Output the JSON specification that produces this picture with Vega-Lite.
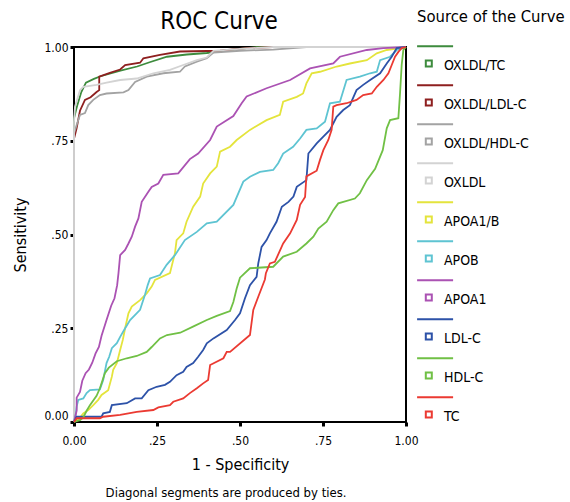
{
"$schema": "https://vega.github.io/schema/vega-lite/v6.json",
"width": 332, "height": 375,
"autosize": "none",
"padding": {"left": 74, "top": 47, "right": 164, "bottom": 80},
"config": {
  "font": "DejaVu Sans Condensed",
  "view": {"stroke": "black", "strokeWidth": 2},
  "axis": {"domain": false, "grid": false, "tickColor": "black", "tickSize": 4, "tickWidth": 3, "labelColor": "black", "labelFontSize": 12, "titleColor": "black", "titleFontWeight": "normal", "titleFontSize": 16}
},
"title": {"text": "ROC Curve", "fontSize": 24, "fontWeight": "normal", "anchor": "middle", "frame": "group", "dx": -21, "offset": -25, "color": "black"},
"datasets": {
"roc": [
{"s":"OXLDL/TC","i":0,"x":0,"y":0},{"s":"OXLDL/TC","i":1,"x":0,"y":0.81},{"s":"OXLDL/TC","i":2,"x":0.01,"y":0.845},{"s":"OXLDL/TC","i":3,"x":0.022,"y":0.88},{"s":"OXLDL/TC","i":4,"x":0.036,"y":0.905},{"s":"OXLDL/TC","i":5,"x":0.06,"y":0.915},{"s":"OXLDL/TC","i":6,"x":0.08,"y":0.922},{"s":"OXLDL/TC","i":7,"x":0.14,"y":0.937},{"s":"OXLDL/TC","i":8,"x":0.19,"y":0.948},{"s":"OXLDL/TC","i":9,"x":0.23,"y":0.96},{"s":"OXLDL/TC","i":10,"x":0.28,"y":0.974},{"s":"OXLDL/TC","i":11,"x":0.34,"y":0.98},{"s":"OXLDL/TC","i":12,"x":0.4,"y":0.984},{"s":"OXLDL/TC","i":13,"x":0.45,"y":0.99},{"s":"OXLDL/TC","i":14,"x":0.5,"y":0.995},{"s":"OXLDL/TC","i":15,"x":0.55,"y":1},{"s":"OXLDL/TC","i":16,"x":1,"y":1},
{"s":"OXLDL/LDL-C","i":0,"x":0,"y":0},{"s":"OXLDL/LDL-C","i":1,"x":0,"y":0.755},{"s":"OXLDL/LDL-C","i":2,"x":0.008,"y":0.784},{"s":"OXLDL/LDL-C","i":3,"x":0.018,"y":0.83},{"s":"OXLDL/LDL-C","i":4,"x":0.033,"y":0.859},{"s":"OXLDL/LDL-C","i":5,"x":0.05,"y":0.866},{"s":"OXLDL/LDL-C","i":6,"x":0.068,"y":0.88},{"s":"OXLDL/LDL-C","i":7,"x":0.076,"y":0.885},{"s":"OXLDL/LDL-C","i":8,"x":0.076,"y":0.921},{"s":"OXLDL/LDL-C","i":9,"x":0.108,"y":0.931},{"s":"OXLDL/LDL-C","i":10,"x":0.139,"y":0.94},{"s":"OXLDL/LDL-C","i":11,"x":0.154,"y":0.952},{"s":"OXLDL/LDL-C","i":12,"x":0.199,"y":0.958},{"s":"OXLDL/LDL-C","i":13,"x":0.209,"y":0.97},{"s":"OXLDL/LDL-C","i":14,"x":0.259,"y":0.979},{"s":"OXLDL/LDL-C","i":15,"x":0.319,"y":0.988},{"s":"OXLDL/LDL-C","i":16,"x":0.44,"y":0.99},{"s":"OXLDL/LDL-C","i":17,"x":0.52,"y":0.997},{"s":"OXLDL/LDL-C","i":18,"x":0.6,"y":1},{"s":"OXLDL/LDL-C","i":19,"x":1,"y":1},
{"s":"OXLDL/HDL-C","i":0,"x":0,"y":0},{"s":"OXLDL/HDL-C","i":1,"x":0,"y":0.77},{"s":"OXLDL/HDL-C","i":2,"x":0.008,"y":0.792},{"s":"OXLDL/HDL-C","i":3,"x":0.018,"y":0.819},{"s":"OXLDL/HDL-C","i":4,"x":0.033,"y":0.824},{"s":"OXLDL/HDL-C","i":5,"x":0.043,"y":0.845},{"s":"OXLDL/HDL-C","i":6,"x":0.058,"y":0.859},{"s":"OXLDL/HDL-C","i":7,"x":0.078,"y":0.872},{"s":"OXLDL/HDL-C","i":8,"x":0.098,"y":0.876},{"s":"OXLDL/HDL-C","i":9,"x":0.149,"y":0.879},{"s":"OXLDL/HDL-C","i":10,"x":0.164,"y":0.885},{"s":"OXLDL/HDL-C","i":11,"x":0.184,"y":0.907},{"s":"OXLDL/HDL-C","i":12,"x":0.219,"y":0.921},{"s":"OXLDL/HDL-C","i":13,"x":0.269,"y":0.93},{"s":"OXLDL/HDL-C","i":14,"x":0.319,"y":0.934},{"s":"OXLDL/HDL-C","i":15,"x":0.334,"y":0.948},{"s":"OXLDL/HDL-C","i":16,"x":0.37,"y":0.961},{"s":"OXLDL/HDL-C","i":17,"x":0.4,"y":0.97},{"s":"OXLDL/HDL-C","i":18,"x":0.42,"y":0.985},{"s":"OXLDL/HDL-C","i":19,"x":0.5,"y":0.99},{"s":"OXLDL/HDL-C","i":20,"x":0.6,"y":0.993},{"s":"OXLDL/HDL-C","i":21,"x":0.7,"y":1},{"s":"OXLDL/HDL-C","i":22,"x":1,"y":1},
{"s":"OXLDL","i":0,"x":0,"y":0},{"s":"OXLDL","i":1,"x":0,"y":0.8},{"s":"OXLDL","i":2,"x":0.003,"y":0.841},{"s":"OXLDL","i":3,"x":0.018,"y":0.885},{"s":"OXLDL","i":4,"x":0.028,"y":0.894},{"s":"OXLDL","i":5,"x":0.068,"y":0.899},{"s":"OXLDL","i":6,"x":0.098,"y":0.905},{"s":"OXLDL","i":7,"x":0.139,"y":0.912},{"s":"OXLDL","i":8,"x":0.189,"y":0.916},{"s":"OXLDL","i":9,"x":0.239,"y":0.93},{"s":"OXLDL","i":10,"x":0.289,"y":0.939},{"s":"OXLDL","i":11,"x":0.329,"y":0.952},{"s":"OXLDL","i":12,"x":0.37,"y":0.965},{"s":"OXLDL","i":13,"x":0.4,"y":0.972},{"s":"OXLDL","i":14,"x":0.42,"y":0.99},{"s":"OXLDL","i":15,"x":0.5,"y":0.995},{"s":"OXLDL","i":16,"x":0.6,"y":1},{"s":"OXLDL","i":17,"x":1,"y":1},
{"s":"APOA1/B","i":0,"x":0,"y":0},{"s":"APOA1/B","i":1,"x":0.018,"y":0.011},{"s":"APOA1/B","i":2,"x":0.028,"y":0.023},{"s":"APOA1/B","i":3,"x":0.043,"y":0.032},{"s":"APOA1/B","i":4,"x":0.058,"y":0.045},{"s":"APOA1/B","i":5,"x":0.073,"y":0.059},{"s":"APOA1/B","i":6,"x":0.083,"y":0.072},{"s":"APOA1/B","i":7,"x":0.103,"y":0.085},{"s":"APOA1/B","i":8,"x":0.114,"y":0.121},{"s":"APOA1/B","i":9,"x":0.118,"y":0.139},{"s":"APOA1/B","i":10,"x":0.129,"y":0.157},{"s":"APOA1/B","i":11,"x":0.139,"y":0.192},{"s":"APOA1/B","i":12,"x":0.147,"y":0.219},{"s":"APOA1/B","i":13,"x":0.154,"y":0.25},{"s":"APOA1/B","i":14,"x":0.164,"y":0.29},{"s":"APOA1/B","i":15,"x":0.174,"y":0.308},{"s":"APOA1/B","i":16,"x":0.199,"y":0.325},{"s":"APOA1/B","i":17,"x":0.219,"y":0.343},{"s":"APOA1/B","i":18,"x":0.234,"y":0.361},{"s":"APOA1/B","i":19,"x":0.244,"y":0.379},{"s":"APOA1/B","i":20,"x":0.289,"y":0.397},{"s":"APOA1/B","i":21,"x":0.304,"y":0.45},{"s":"APOA1/B","i":22,"x":0.309,"y":0.485},{"s":"APOA1/B","i":23,"x":0.329,"y":0.503},{"s":"APOA1/B","i":24,"x":0.339,"y":0.534},{"s":"APOA1/B","i":25,"x":0.359,"y":0.574},{"s":"APOA1/B","i":26,"x":0.38,"y":0.601},{"s":"APOA1/B","i":27,"x":0.389,"y":0.636},{"s":"APOA1/B","i":28,"x":0.41,"y":0.663},{"s":"APOA1/B","i":29,"x":0.43,"y":0.681},{"s":"APOA1/B","i":30,"x":0.44,"y":0.721},{"s":"APOA1/B","i":31,"x":0.47,"y":0.734},{"s":"APOA1/B","i":32,"x":0.49,"y":0.752},{"s":"APOA1/B","i":33,"x":0.53,"y":0.779},{"s":"APOA1/B","i":34,"x":0.58,"y":0.805},{"s":"APOA1/B","i":35,"x":0.62,"y":0.819},{"s":"APOA1/B","i":36,"x":0.63,"y":0.854},{"s":"APOA1/B","i":37,"x":0.671,"y":0.867},{"s":"APOA1/B","i":38,"x":0.69,"y":0.876},{"s":"APOA1/B","i":39,"x":0.7,"y":0.903},{"s":"APOA1/B","i":40,"x":0.716,"y":0.93},{"s":"APOA1/B","i":41,"x":0.741,"y":0.934},{"s":"APOA1/B","i":42,"x":0.791,"y":0.948},{"s":"APOA1/B","i":43,"x":0.831,"y":0.956},{"s":"APOA1/B","i":44,"x":0.882,"y":0.965},{"s":"APOA1/B","i":45,"x":0.912,"y":0.983},{"s":"APOA1/B","i":46,"x":0.942,"y":0.992},{"s":"APOA1/B","i":47,"x":1,"y":1},
{"s":"APOB","i":0,"x":0,"y":0},{"s":"APOB","i":1,"x":0.005,"y":0.02},{"s":"APOB","i":2,"x":0.008,"y":0.041},{"s":"APOB","i":3,"x":0.013,"y":0.059},{"s":"APOB","i":4,"x":0.028,"y":0.063},{"s":"APOB","i":5,"x":0.038,"y":0.077},{"s":"APOB","i":6,"x":0.048,"y":0.085},{"s":"APOB","i":7,"x":0.078,"y":0.087},{"s":"APOB","i":8,"x":0.088,"y":0.112},{"s":"APOB","i":9,"x":0.098,"y":0.157},{"s":"APOB","i":10,"x":0.106,"y":0.174},{"s":"APOB","i":11,"x":0.114,"y":0.197},{"s":"APOB","i":12,"x":0.129,"y":0.21},{"s":"APOB","i":13,"x":0.139,"y":0.227},{"s":"APOB","i":14,"x":0.154,"y":0.25},{"s":"APOB","i":15,"x":0.169,"y":0.272},{"s":"APOB","i":16,"x":0.199,"y":0.299},{"s":"APOB","i":17,"x":0.214,"y":0.34},{"s":"APOB","i":18,"x":0.222,"y":0.365},{"s":"APOB","i":19,"x":0.229,"y":0.383},{"s":"APOB","i":20,"x":0.259,"y":0.392},{"s":"APOB","i":21,"x":0.279,"y":0.419},{"s":"APOB","i":22,"x":0.304,"y":0.445},{"s":"APOB","i":23,"x":0.334,"y":0.485},{"s":"APOB","i":24,"x":0.37,"y":0.507},{"s":"APOB","i":25,"x":0.4,"y":0.53},{"s":"APOB","i":26,"x":0.43,"y":0.534},{"s":"APOB","i":27,"x":0.48,"y":0.579},{"s":"APOB","i":28,"x":0.51,"y":0.641},{"s":"APOB","i":29,"x":0.53,"y":0.654},{"s":"APOB","i":30,"x":0.56,"y":0.667},{"s":"APOB","i":31,"x":0.6,"y":0.672},{"s":"APOB","i":32,"x":0.615,"y":0.69},{"s":"APOB","i":33,"x":0.63,"y":0.716},{"s":"APOB","i":34,"x":0.66,"y":0.734},{"s":"APOB","i":35,"x":0.681,"y":0.756},{"s":"APOB","i":36,"x":0.7,"y":0.779},{"s":"APOB","i":37,"x":0.731,"y":0.783},{"s":"APOB","i":38,"x":0.756,"y":0.801},{"s":"APOB","i":39,"x":0.771,"y":0.85},{"s":"APOB","i":40,"x":0.801,"y":0.854},{"s":"APOB","i":41,"x":0.821,"y":0.912},{"s":"APOB","i":42,"x":0.861,"y":0.921},{"s":"APOB","i":43,"x":0.892,"y":0.93},{"s":"APOB","i":44,"x":0.912,"y":0.934},{"s":"APOB","i":45,"x":0.922,"y":0.965},{"s":"APOB","i":46,"x":0.952,"y":0.974},{"s":"APOB","i":47,"x":0.972,"y":0.992},{"s":"APOB","i":48,"x":1,"y":1},
{"s":"APOA1","i":0,"x":0,"y":0},{"s":"APOA1","i":1,"x":0.008,"y":0.03},{"s":"APOA1","i":2,"x":0.008,"y":0.065},{"s":"APOA1","i":3,"x":0.018,"y":0.08},{"s":"APOA1","i":4,"x":0.025,"y":0.11},{"s":"APOA1","i":5,"x":0.035,"y":0.13},{"s":"APOA1","i":6,"x":0.045,"y":0.14},{"s":"APOA1","i":7,"x":0.055,"y":0.158},{"s":"APOA1","i":8,"x":0.065,"y":0.183},{"s":"APOA1","i":9,"x":0.075,"y":0.2},{"s":"APOA1","i":10,"x":0.083,"y":0.23},{"s":"APOA1","i":11,"x":0.098,"y":0.272},{"s":"APOA1","i":12,"x":0.112,"y":0.31},{"s":"APOA1","i":13,"x":0.122,"y":0.33},{"s":"APOA1","i":14,"x":0.13,"y":0.365},{"s":"APOA1","i":15,"x":0.134,"y":0.397},{"s":"APOA1","i":16,"x":0.139,"y":0.445},{"s":"APOA1","i":17,"x":0.154,"y":0.459},{"s":"APOA1","i":18,"x":0.164,"y":0.476},{"s":"APOA1","i":19,"x":0.174,"y":0.494},{"s":"APOA1","i":20,"x":0.184,"y":0.521},{"s":"APOA1","i":21,"x":0.194,"y":0.543},{"s":"APOA1","i":22,"x":0.204,"y":0.587},{"s":"APOA1","i":23,"x":0.224,"y":0.614},{"s":"APOA1","i":24,"x":0.234,"y":0.627},{"s":"APOA1","i":25,"x":0.254,"y":0.636},{"s":"APOA1","i":26,"x":0.269,"y":0.659},{"s":"APOA1","i":27,"x":0.314,"y":0.663},{"s":"APOA1","i":28,"x":0.349,"y":0.701},{"s":"APOA1","i":29,"x":0.374,"y":0.716},{"s":"APOA1","i":30,"x":0.41,"y":0.752},{"s":"APOA1","i":31,"x":0.43,"y":0.788},{"s":"APOA1","i":32,"x":0.48,"y":0.816},{"s":"APOA1","i":33,"x":0.505,"y":0.85},{"s":"APOA1","i":34,"x":0.52,"y":0.868},{"s":"APOA1","i":35,"x":0.58,"y":0.89},{"s":"APOA1","i":36,"x":0.651,"y":0.912},{"s":"APOA1","i":37,"x":0.711,"y":0.943},{"s":"APOA1","i":38,"x":0.781,"y":0.956},{"s":"APOA1","i":39,"x":0.801,"y":0.974},{"s":"APOA1","i":40,"x":0.882,"y":0.992},{"s":"APOA1","i":41,"x":0.932,"y":0.997},{"s":"APOA1","i":42,"x":1,"y":1},
{"s":"LDL-C","i":0,"x":0,"y":0},{"s":"LDL-C","i":1,"x":0.008,"y":0.014},{"s":"LDL-C","i":2,"x":0.083,"y":0.014},{"s":"LDL-C","i":3,"x":0.088,"y":0.023},{"s":"LDL-C","i":4,"x":0.108,"y":0.027},{"s":"LDL-C","i":5,"x":0.114,"y":0.045},{"s":"LDL-C","i":6,"x":0.159,"y":0.05},{"s":"LDL-C","i":7,"x":0.184,"y":0.063},{"s":"LDL-C","i":8,"x":0.204,"y":0.063},{"s":"LDL-C","i":9,"x":0.224,"y":0.085},{"s":"LDL-C","i":10,"x":0.249,"y":0.094},{"s":"LDL-C","i":11,"x":0.274,"y":0.099},{"s":"LDL-C","i":12,"x":0.289,"y":0.107},{"s":"LDL-C","i":13,"x":0.309,"y":0.125},{"s":"LDL-C","i":14,"x":0.329,"y":0.134},{"s":"LDL-C","i":15,"x":0.339,"y":0.147},{"s":"LDL-C","i":16,"x":0.359,"y":0.157},{"s":"LDL-C","i":17,"x":0.374,"y":0.174},{"s":"LDL-C","i":18,"x":0.389,"y":0.192},{"s":"LDL-C","i":19,"x":0.4,"y":0.21},{"s":"LDL-C","i":20,"x":0.42,"y":0.223},{"s":"LDL-C","i":21,"x":0.46,"y":0.245},{"s":"LDL-C","i":22,"x":0.485,"y":0.272},{"s":"LDL-C","i":23,"x":0.5,"y":0.29},{"s":"LDL-C","i":24,"x":0.515,"y":0.33},{"s":"LDL-C","i":25,"x":0.53,"y":0.365},{"s":"LDL-C","i":26,"x":0.55,"y":0.387},{"s":"LDL-C","i":27,"x":0.555,"y":0.423},{"s":"LDL-C","i":28,"x":0.565,"y":0.467},{"s":"LDL-C","i":29,"x":0.58,"y":0.485},{"s":"LDL-C","i":30,"x":0.59,"y":0.503},{"s":"LDL-C","i":31,"x":0.61,"y":0.534},{"s":"LDL-C","i":32,"x":0.626,"y":0.574},{"s":"LDL-C","i":33,"x":0.646,"y":0.587},{"s":"LDL-C","i":34,"x":0.661,"y":0.601},{"s":"LDL-C","i":35,"x":0.671,"y":0.627},{"s":"LDL-C","i":36,"x":0.7,"y":0.645},{"s":"LDL-C","i":37,"x":0.706,"y":0.716},{"s":"LDL-C","i":38,"x":0.731,"y":0.743},{"s":"LDL-C","i":39,"x":0.751,"y":0.761},{"s":"LDL-C","i":40,"x":0.771,"y":0.779},{"s":"LDL-C","i":41,"x":0.791,"y":0.814},{"s":"LDL-C","i":42,"x":0.811,"y":0.832},{"s":"LDL-C","i":43,"x":0.831,"y":0.845},{"s":"LDL-C","i":44,"x":0.851,"y":0.885},{"s":"LDL-C","i":45,"x":0.871,"y":0.899},{"s":"LDL-C","i":46,"x":0.892,"y":0.912},{"s":"LDL-C","i":47,"x":0.922,"y":0.93},{"s":"LDL-C","i":48,"x":0.942,"y":0.956},{"s":"LDL-C","i":49,"x":0.957,"y":0.974},{"s":"LDL-C","i":50,"x":0.972,"y":0.997},{"s":"LDL-C","i":51,"x":1,"y":1},
{"s":"HDL-C","i":0,"x":0,"y":0},{"s":"HDL-C","i":1,"x":0.018,"y":0.005},{"s":"HDL-C","i":2,"x":0.028,"y":0.012},{"s":"HDL-C","i":3,"x":0.038,"y":0.03},{"s":"HDL-C","i":4,"x":0.048,"y":0.045},{"s":"HDL-C","i":5,"x":0.068,"y":0.07},{"s":"HDL-C","i":6,"x":0.078,"y":0.09},{"s":"HDL-C","i":7,"x":0.093,"y":0.13},{"s":"HDL-C","i":8,"x":0.105,"y":0.145},{"s":"HDL-C","i":9,"x":0.129,"y":0.162},{"s":"HDL-C","i":10,"x":0.159,"y":0.17},{"s":"HDL-C","i":11,"x":0.189,"y":0.176},{"s":"HDL-C","i":12,"x":0.219,"y":0.187},{"s":"HDL-C","i":13,"x":0.234,"y":0.2},{"s":"HDL-C","i":14,"x":0.259,"y":0.223},{"s":"HDL-C","i":15,"x":0.28,"y":0.232},{"s":"HDL-C","i":16,"x":0.32,"y":0.238},{"s":"HDL-C","i":17,"x":0.36,"y":0.255},{"s":"HDL-C","i":18,"x":0.4,"y":0.272},{"s":"HDL-C","i":19,"x":0.43,"y":0.283},{"s":"HDL-C","i":20,"x":0.47,"y":0.296},{"s":"HDL-C","i":21,"x":0.48,"y":0.32},{"s":"HDL-C","i":22,"x":0.49,"y":0.356},{"s":"HDL-C","i":23,"x":0.5,"y":0.385},{"s":"HDL-C","i":24,"x":0.53,"y":0.41},{"s":"HDL-C","i":25,"x":0.6,"y":0.414},{"s":"HDL-C","i":26,"x":0.63,"y":0.441},{"s":"HDL-C","i":27,"x":0.671,"y":0.454},{"s":"HDL-C","i":28,"x":0.7,"y":0.476},{"s":"HDL-C","i":29,"x":0.721,"y":0.494},{"s":"HDL-C","i":30,"x":0.736,"y":0.516},{"s":"HDL-C","i":31,"x":0.761,"y":0.534},{"s":"HDL-C","i":32,"x":0.781,"y":0.565},{"s":"HDL-C","i":33,"x":0.796,"y":0.583},{"s":"HDL-C","i":34,"x":0.846,"y":0.596},{"s":"HDL-C","i":35,"x":0.861,"y":0.61},{"s":"HDL-C","i":36,"x":0.882,"y":0.645},{"s":"HDL-C","i":37,"x":0.907,"y":0.675},{"s":"HDL-C","i":38,"x":0.93,"y":0.725},{"s":"HDL-C","i":39,"x":0.942,"y":0.783},{"s":"HDL-C","i":40,"x":0.952,"y":0.805},{"s":"HDL-C","i":41,"x":0.977,"y":0.81},{"s":"HDL-C","i":42,"x":0.982,"y":0.876},{"s":"HDL-C","i":43,"x":0.987,"y":0.952},{"s":"HDL-C","i":44,"x":0.992,"y":0.992},{"s":"HDL-C","i":45,"x":1,"y":1},
{"s":"TC","i":0,"x":0,"y":0},{"s":"TC","i":1,"x":0.008,"y":0.01},{"s":"TC","i":2,"x":0.078,"y":0.01},{"s":"TC","i":3,"x":0.088,"y":0.014},{"s":"TC","i":4,"x":0.139,"y":0.019},{"s":"TC","i":5,"x":0.189,"y":0.027},{"s":"TC","i":6,"x":0.239,"y":0.032},{"s":"TC","i":7,"x":0.254,"y":0.039},{"s":"TC","i":8,"x":0.289,"y":0.045},{"s":"TC","i":9,"x":0.299,"y":0.054},{"s":"TC","i":10,"x":0.329,"y":0.063},{"s":"TC","i":11,"x":0.349,"y":0.077},{"s":"TC","i":12,"x":0.37,"y":0.09},{"s":"TC","i":13,"x":0.389,"y":0.103},{"s":"TC","i":14,"x":0.404,"y":0.112},{"s":"TC","i":15,"x":0.41,"y":0.152},{"s":"TC","i":16,"x":0.45,"y":0.17},{"s":"TC","i":17,"x":0.46,"y":0.187},{"s":"TC","i":18,"x":0.47,"y":0.187},{"s":"TC","i":19,"x":0.53,"y":0.232},{"s":"TC","i":20,"x":0.54,"y":0.299},{"s":"TC","i":21,"x":0.555,"y":0.334},{"s":"TC","i":22,"x":0.575,"y":0.38},{"s":"TC","i":23,"x":0.578,"y":0.397},{"s":"TC","i":24,"x":0.59,"y":0.423},{"s":"TC","i":25,"x":0.605,"y":0.427},{"s":"TC","i":26,"x":0.63,"y":0.476},{"s":"TC","i":27,"x":0.651,"y":0.503},{"s":"TC","i":28,"x":0.671,"y":0.539},{"s":"TC","i":29,"x":0.681,"y":0.579},{"s":"TC","i":30,"x":0.696,"y":0.6},{"s":"TC","i":31,"x":0.7,"y":0.655},{"s":"TC","i":32,"x":0.731,"y":0.67},{"s":"TC","i":33,"x":0.741,"y":0.699},{"s":"TC","i":34,"x":0.751,"y":0.725},{"s":"TC","i":35,"x":0.766,"y":0.752},{"s":"TC","i":36,"x":0.776,"y":0.779},{"s":"TC","i":37,"x":0.781,"y":0.841},{"s":"TC","i":38,"x":0.791,"y":0.845},{"s":"TC","i":39,"x":0.821,"y":0.85},{"s":"TC","i":40,"x":0.851,"y":0.859},{"s":"TC","i":41,"x":0.871,"y":0.872},{"s":"TC","i":42,"x":0.897,"y":0.876},{"s":"TC","i":43,"x":0.912,"y":0.894},{"s":"TC","i":44,"x":0.932,"y":0.912},{"s":"TC","i":45,"x":0.947,"y":0.93},{"s":"TC","i":46,"x":0.957,"y":0.952},{"s":"TC","i":47,"x":0.967,"y":0.974},{"s":"TC","i":48,"x":0.977,"y":0.987},{"s":"TC","i":49,"x":0.987,"y":0.997},{"s":"TC","i":50,"x":1,"y":1}
],
"note": [{"note": "Diagonal segments are produced by ties."}]
},
"layer": [
{
"data": {"name": "roc"},
"mark": {"type": "line", "strokeWidth": 1.8},
"encoding": {
"x": {"field": "x", "type": "quantitative", "scale": {"domain": [0, 1], "nice": false}, "title": "1 - Specificity",
  "axis": {"values": [0, 0.25, 0.5, 0.75, 1], "labelFlush": false, "labelExpr": "datum.value == 0 ? '0.00' : datum.value == 1 ? '1.00' : replace(format(datum.value, '.2f'), '0.', '.')", "labelPadding": 9, "titlePadding": 10}},
"y": {"field": "y", "type": "quantitative", "scale": {"domain": [0, 1], "nice": false}, "title": "Sensitivity",
  "axis": {"values": [0, 0.25, 0.5, 0.75, 1], "labelFlush": false, "labelExpr": "datum.value == 0 ? '0.00' : datum.value == 1 ? '1.00' : replace(format(datum.value, '.2f'), '0.', '.')", "labelPadding": 2, "titlePadding": 15,
  "labelBaseline": {"condition": {"test": "datum.value == 0", "value": "bottom"}, "value": "middle"}}},
"color": {"field": "s", "type": "nominal",
  "scale": {"domain": ["OXLDL/TC", "OXLDL/LDL-C", "OXLDL/HDL-C", "OXLDL", "APOA1/B", "APOB", "APOA1", "LDL-C", "HDL-C", "TC"],
            "range": ["#3d8b3d", "#8e1f1f", "#a3a3a3", "#d3d3d3", "#e4e43c", "#5ec4d2", "#ab52b3", "#2d52a8", "#70c045", "#eb3a32"]},
  "legend": {"orient": "none", "legendX": 343, "legendY": -38, "title": "Source of the Curve", "titleFontSize": 16.5, "titleFontWeight": "normal", "titleColor": "black", "titlePadding": 33,
    "labelFontSize": 14, "labelColor": "black", "symbolType": "M-2.3,-6.4H9.7M0.6,-1.7H2.6V0.3H0.6Z", "symbolSize": 36, "symbolStrokeWidth": 2, "symbolFillColor": "transparent", "labelOffset": 13, "rowPadding": 8}},
"order": {"field": "i", "type": "quantitative"}
}
},
{
"data": {"name": "note"},
"mark": {"type": "text", "fontSize": 13, "baseline": "middle", "align": "center", "color": "black"},
"encoding": {
"x": {"datum": 0.458, "type": "quantitative"},
"y": {"datum": -0.189, "type": "quantitative"},
"text": {"field": "note"}
}
}
]
}
